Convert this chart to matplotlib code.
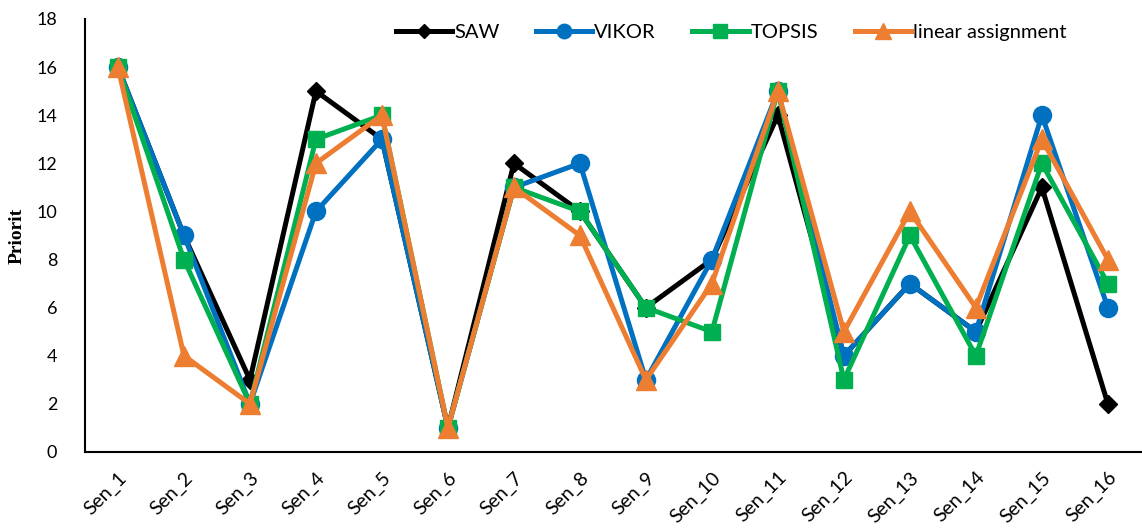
import matplotlib

matplotlib.use("Agg")
import matplotlib.pyplot as plt

plt.rcParams["font.family"] = ["Lato", "DejaVu Sans"]

sensors = [f"Sen_{i}" for i in range(1, 17)]
saw = [16, 9, 3, 15, 13, 1, 12, 10, 6, 8, 14, 4, 7, 5, 11, 2]
vikor = [16, 9, 2, 10, 13, 1, 11, 12, 3, 8, 15, 4, 7, 5, 14, 6]
topsis = [16, 8, 2, 13, 14, 1, 11, 10, 6, 5, 15, 3, 9, 4, 12, 7]
linear = [16, 4, 2, 12, 14, 1, 11, 9, 3, 7, 15, 5, 10, 6, 13, 8]

series = [
    ("SAW", saw, "#000000", "D", 9),
    ("VIKOR", vikor, "#0070C0", "o", 13),
    ("TOPSIS", topsis, "#00B050", "s", 12),
    ("linear assignment", linear, "#ED7D31", "^", 14),
]

fig = plt.figure(figsize=(11.42, 5.32), dpi=100)
ax = fig.add_axes([0.0744, 0.1504, 0.9246, 0.8139])

x = list(range(len(sensors)))
for z, (name, vals, col, mk, ms) in enumerate(series):
    ax.plot(x, vals, color=col, linewidth=3.6, marker=mk, markersize=ms,
            label=name, zorder=3 + z)

ax.set_xlim(-0.5, len(sensors) - 0.5)
ax.set_ylim(0, 18)
ax.set_yticks(range(0, 19, 2))
ax.set_xticks(x)
ax.set_xticklabels(sensors, rotation=45, ha="right", rotation_mode="anchor")
ax.tick_params(axis="both", length=0, labelsize=13)
ax.tick_params(axis="x", labelsize=14, pad=12)
ax.tick_params(axis="y", pad=20)

for side in ["top", "right"]:
    ax.spines[side].set_visible(False)
for side in ["left", "bottom"]:
    ax.spines[side].set_linewidth(1.5)

ax.set_ylabel("Priorit", family="Liberation Serif", fontweight="bold",
              fontsize=14, labelpad=8)

ax.legend(loc="upper center", bbox_to_anchor=(0.612, 1.03), ncol=4,
          frameon=False, fontsize=14.5, handlelength=2.8, handletextpad=0.1,
          columnspacing=1.8, markerscale=0.8)

fig.savefig("out.png", dpi=100)
